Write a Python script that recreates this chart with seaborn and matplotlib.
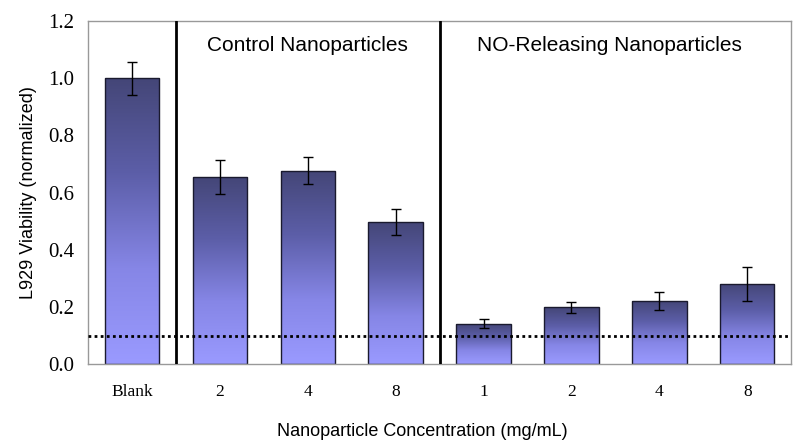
import numpy as np
import pandas as pd
import seaborn as sns
import matplotlib.pyplot as plt
from matplotlib.colors import LinearSegmentedColormap

# Data
groups = ["Blank", "C2", "C4", "C8", "NO1", "NO2", "NO4", "NO8"]
tick_labels = ["Blank", "2", "4", "8", "1", "2", "4", "8"]
viability = [1.00, 0.655, 0.677, 0.497, 0.142, 0.199, 0.221, 0.282]
errors = [0.057, 0.058, 0.047, 0.045, 0.016, 0.018, 0.031, 0.059]
threshold = 0.1

df = pd.DataFrame({"group": groups, "viability": viability})

sns.set_style("white")
plt.rcParams.update({"text.color": "black", "axes.labelcolor": "black",
                     "xtick.labelcolor": "black", "ytick.labelcolor": "black"})
fig, ax = plt.subplots(figsize=(8, 4.47), dpi=100)
fig.subplots_adjust(left=0.11, right=0.989, top=0.953, bottom=0.185)

sns.barplot(data=df, x="group", y="viability", order=groups, color="#9999ff",
            width=0.62, edgecolor="#1a1a2e", linewidth=1.0, errorbar=None, ax=ax)

# per-bar vertical gradient: dark navy at top, periwinkle at bottom
cmap = LinearSegmentedColormap.from_list("barfill", ["#9a9aff", "#8686e6", "#5c5ea8", "#444677"])
grad = np.linspace(0, 1, 256).reshape(-1, 1)
for p in ax.patches:
    x0, y0 = p.get_x(), p.get_y()
    w, h = p.get_width(), p.get_height()
    im = ax.imshow(grad, cmap=cmap, origin="lower", aspect="auto",
                   extent=[x0, x0 + w, y0, y0 + h], zorder=p.get_zorder() + 0.1)
    im.set_clip_path(p)
    p.set_facecolor("none")
    p.set_zorder(p.get_zorder() + 0.2)

ax.errorbar(range(len(groups)), viability, yerr=errors, fmt="none",
            ecolor="black", elinewidth=1.0, capsize=3.5, capthick=1.0, zorder=5)

ax.axhline(threshold, color="black", linestyle=(0, (1, 1.2)), linewidth=2.0, zorder=6)
for xs in [0.5, 3.5]:
    ax.axvline(xs, color="black", linewidth=2.0, zorder=6)

ax.set_xlim(-0.5, len(groups) - 0.5)
ax.set_ylim(0, 1.2)
ax.set_yticks(np.arange(0, 1.21, 0.2))
ax.set_yticklabels([f"{v:.1f}" for v in np.arange(0, 1.21, 0.2)],
                   fontfamily="Liberation Serif", fontsize=15)
ax.set_xticks(range(len(groups)))
ax.set_xticklabels(tick_labels, fontfamily="Liberation Serif", fontsize=12.5)
ax.tick_params(axis="x", length=0, pad=14)
ax.tick_params(axis="y", length=4, color="#999999", pad=6)
# small tick marks at the category boundaries
ax.set_xticks(np.arange(-0.5, len(groups), 1), minor=True)
ax.tick_params(axis="x", which="minor", length=4, color="#bbbbbb")

for s in ax.spines.values():
    s.set_color("#999999")
    s.set_linewidth(1.0)

ax.set_ylabel("L929 Viability (normalized)", fontfamily="Liberation Sans", fontsize=13, labelpad=8)
ax.set_xlabel("Nanoparticle Concentration (mg/mL)", fontfamily="Liberation Sans", fontsize=13, labelpad=15)
ax.xaxis.set_label_coords(0.475, -0.17)

ax.text(2.0, 1.113, "Control Nanoparticles", ha="center", va="center",
        fontfamily="Liberation Sans", fontsize=15)
ax.text(5.43, 1.113, "NO-Releasing Nanoparticles", ha="center", va="center",
        fontfamily="Liberation Sans", fontsize=15)

fig.savefig("out.png", dpi=100)
